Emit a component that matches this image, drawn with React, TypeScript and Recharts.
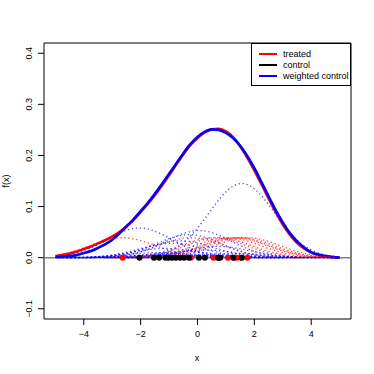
import {
  ComposedChart,
  Line,
  Scatter,
  XAxis,
  YAxis,
  ReferenceLine,
  ReferenceArea,
  Label,
} from 'recharts';

// evaluation grid for the two density curves
const xGrid = [
  -5, -4.75, -4.5, -4.25, -4, -3.75, -3.5, -3.25, -3, -2.75, -2.5, -2.25, -2, -1.75, -1.5, -1.25,
  -1, -0.75, -0.5, -0.25, 0, 0.25, 0.5, 0.75, 1, 1.25, 1.5, 1.75, 2, 2.25, 2.5, 2.75, 3, 3.25,
  3.5, 3.75, 4, 4.25, 4.5, 4.75, 5,
];

const treatedDensity = [
  0.003, 0.005, 0.008, 0.012, 0.017, 0.022, 0.028, 0.034, 0.041, 0.05, 0.061, 0.074, 0.089, 0.105,
  0.122, 0.141, 0.161, 0.182, 0.202, 0.22, 0.234, 0.245, 0.251, 0.252, 0.247, 0.236, 0.218, 0.196,
  0.171, 0.144, 0.116, 0.089, 0.065, 0.045, 0.029, 0.018, 0.01, 0.005, 0.002, 0.001, 0,
];

const weightedDensity = [
  0.001, 0.002, 0.003, 0.005, 0.009, 0.013, 0.019, 0.026, 0.035, 0.047, 0.061, 0.075, 0.091, 0.107,
  0.125, 0.144, 0.164, 0.184, 0.204, 0.222, 0.236, 0.246, 0.251, 0.25, 0.244, 0.234, 0.219, 0.199,
  0.175, 0.148, 0.12, 0.093, 0.069, 0.048, 0.032, 0.02, 0.011, 0.006, 0.003, 0.001, 0,
];

// shape of one kernel bump (relative height at distance 0, 0.25, ... 4 from its centre)
const kernelOffsets = [0, 0.25, 0.5, 0.75, 1, 1.25, 1.5, 1.75, 2, 2.25, 2.5, 2.75, 3, 3.25, 3.5, 3.75, 4];
const kernelProfile = [
  1, 0.977, 0.91, 0.808, 0.685, 0.554, 0.427, 0.314, 0.22, 0.147, 0.094, 0.057, 0.033, 0.018, 0.01,
  0.005, 0.002,
];

// treated sample and its (equal) bump heights
const treatedPoints = [-2.63, -0.23, 0.56, 0.75, 1.07, 1.3, 1.38, 1.55, 1.76];
const treatedHeights = [0.039, 0.039, 0.039, 0.039, 0.039, 0.039, 0.039, 0.039, 0.039];

// control sample and the weighted bump heights
const controlPoints = [
  -2.04, -1.53, -1.35, -1.13, -1.02, -0.9, -0.76, -0.61, -0.47, -0.3, 0.05, 0.26, 0.72, 0.8, 1.26, 1.56,
];
const controlHeights = [
  0.058, 0.004, 0.01, 0.018, 0.006, 0.028, 0.008, 0.033, 0.012, 0.045, 0.053, 0.015, 0.022, 0.004,
  0.008, 0.145,
];

const xTicks = [-4, -2, 0, 2, 4];
const yTicks = [-0.1, 0, 0.1, 0.2, 0.3, 0.4];

const FONT = '"Liberation Sans", Arial, Helvetica, sans-serif';

const treatedRows = xGrid.map((x, i) => ({ x, y: treatedDensity[i] }));
const weightedRows = xGrid.map((x, i) => ({ x, y: weightedDensity[i] }));

function bumpRows(center: number, height: number) {
  const rows: { x: number; y: number }[] = [];
  for (let k = kernelOffsets.length - 1; k > 0; k--) {
    rows.push({ x: center - kernelOffsets[k], y: height * kernelProfile[k] });
  }
  for (let k = 0; k < kernelOffsets.length; k++) {
    rows.push({ x: center + kernelOffsets[k], y: height * kernelProfile[k] });
  }
  return rows.filter((r) => r.x >= -5 && r.x <= 5);
}

const treatedBumps = treatedPoints.map((c, i) => bumpRows(c, treatedHeights[i]));
const controlBumps = controlPoints.map((c, i) => bumpRows(c, controlHeights[i]));

const treatedDots = treatedPoints.map((x) => ({ x, y: 0 }));
const controlDots = controlPoints.map((x) => ({ x, y: 0 }));

const fmt = (v: number) => (v < 0 ? '\u2212' + Math.abs(v) : v === 0 ? '0' : String(v));
const fmtY = (v: number) => (v < 0 ? '\u2212' + Math.abs(v).toFixed(1) : v.toFixed(1));

const YTick = ({ x, y, payload }: any) => (
  <text
    x={x}
    y={y}
    transform={`rotate(-90 ${x} ${y})`}
    textAnchor="middle"
    fontSize={9}
    fontFamily={FONT}
    fill="#000"
  >
    {fmtY(payload.value)}
  </text>
);

const dot = (color: string) => (props: any) => (
  <circle cx={props.cx} cy={props.cy} r={3} fill={color} />
);

const legendItems = [
  { label: 'treated', color: '#ff0000' },
  { label: 'control', color: '#000000' },
  { label: 'weighted control', color: '#0000ff' },
];

export default function App() {
  return (
    <div
      style={{
        position: 'absolute',
        left: 0,
        top: 0,
        width: 374,
        height: 374,
        background: '#fff',
        fontFamily: FONT,
      }}
    >
      <ComposedChart width={374} height={374} margin={{ top: 43, right: 23, left: 0, bottom: 0 }}>
        <XAxis
          dataKey="x"
          type="number"
          domain={[-5.4, 5.4]}
          ticks={xTicks}
          tickFormatter={fmt}
          axisLine={false}
          tickSize={6}
          tickMargin={6}
          height={55}
          tick={{ fontSize: 9, fontFamily: FONT, fill: '#000' }}
          tickLine={{ stroke: '#000' }}
          allowDataOverflow
        >
          <Label
            content={() => (
              <text x={197} y={361} textAnchor="middle" fontSize={9} fontFamily={FONT}>
                x
              </text>
            )}
          />
        </XAxis>
        <YAxis
          dataKey="y"
          type="number"
          domain={[-0.12, 0.42]}
          ticks={yTicks}
          axisLine={false}
          tickSize={6}
          tickMargin={6}
          width={44}
          tick={<YTick />}
          tickLine={{ stroke: '#000' }}
          allowDataOverflow
        >
          <Label
            content={() => (
              <text
                x={9}
                y={181}
                transform="rotate(-90 9 181)"
                textAnchor="middle"
                fontSize={9}
                fontFamily={FONT}
              >
                f(x)
              </text>
            )}
          />
        </YAxis>

        <ReferenceLine y={0} stroke="#808080" strokeWidth={1.5} />

        <Line
          data={treatedRows}
          dataKey="y"
          type="monotone"
          stroke="#ff0000"
          strokeWidth={2.6}
          dot={false}
          activeDot={false}
          isAnimationActive={false}
        />
        <Line
          data={weightedRows}
          dataKey="y"
          type="monotone"
          stroke="#0000ff"
          strokeWidth={2.6}
          dot={false}
          activeDot={false}
          isAnimationActive={false}
        />

        {treatedBumps.map((rows, i) => (
          <Line
            key={'t' + i}
            data={rows}
            dataKey="y"
            type="monotone"
            stroke="#ff0000"
            strokeOpacity={0.75}
            strokeWidth={1.3}
            strokeDasharray="1.3 2.7"
            dot={false}
            activeDot={false}
            isAnimationActive={false}
          />
        ))}
        {controlBumps.map((rows, i) => (
          <Line
            key={'c' + i}
            data={rows}
            dataKey="y"
            type="monotone"
            stroke="#0000ff"
            strokeOpacity={0.7}
            strokeWidth={1.3}
            strokeDasharray="1.3 2.7"
            dot={false}
            activeDot={false}
            isAnimationActive={false}
          />
        ))}

        <Scatter data={treatedDots} dataKey="y" shape={dot('#ff0000')} isAnimationActive={false} />
        <Scatter data={controlDots} dataKey="y" shape={dot('#000000')} isAnimationActive={false} />

        <ReferenceArea
          x1={-5.4}
          x2={5.4}
          y1={-0.12}
          y2={0.42}
          fill="none"
          stroke="#000"
          strokeWidth={1}
          fillOpacity={0}
        />
      </ComposedChart>

      <div
        style={{
          position: 'absolute',
          left: 251,
          top: 43,
          width: 100,
          height: 43,
          border: '1px solid #000',
          boxSizing: 'border-box',
          background: '#fff',
          fontSize: 9,
          paddingTop: 5,
        }}
      >
        {legendItems.map((item) => (
          <div key={item.label} style={{ display: 'flex', alignItems: 'center', height: 10.7 }}>
            <span
              style={{
                display: 'inline-block',
                marginLeft: 7,
                width: 18,
                height: 2,
                background: item.color,
              }}
            />
            <span style={{ marginLeft: 6, whiteSpace: 'nowrap' }}>{item.label}</span>
          </div>
        ))}
      </div>
    </div>
  );
}
